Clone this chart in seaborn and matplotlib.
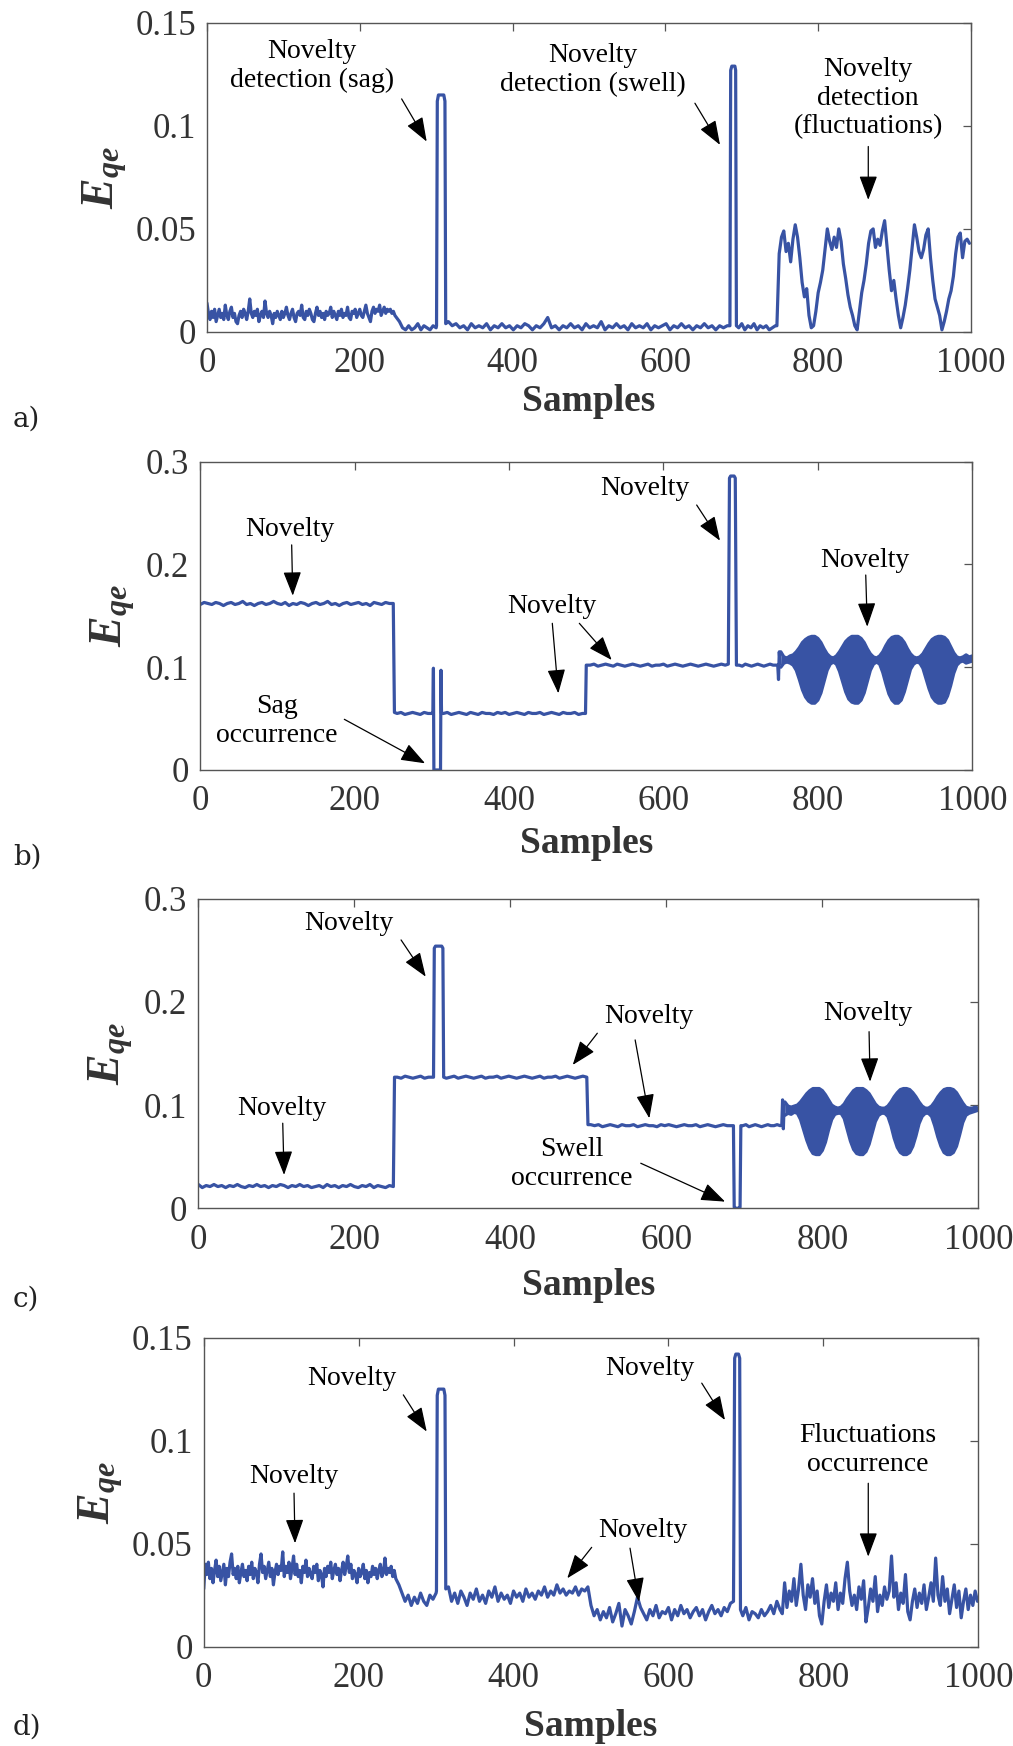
import numpy as np
import matplotlib
matplotlib.use('Agg')
import matplotlib.pyplot as plt
import seaborn as sns

# ---------------- data ----------------
# panel a) : quantization error, noisy signal
a_noise_1 = [0.014, 0.009, 0.006, 0.010, 0.007, 0.011, 0.005, 0.008, 0.011, 0.007,
             0.009, 0.006, 0.013, 0.008, 0.006, 0.010, 0.012, 0.007, 0.009, 0.005,
             0.004, 0.008, 0.010, 0.007, 0.011, 0.009, 0.006, 0.010, 0.016, 0.009,
             0.007, 0.010, 0.008, 0.011, 0.005, 0.008, 0.010, 0.007, 0.015, 0.009,
             0.007, 0.010, 0.008, 0.004, 0.009, 0.007, 0.010, 0.008, 0.006, 0.010,
             0.007, 0.009, 0.012, 0.008, 0.006, 0.009, 0.011, 0.007, 0.005, 0.009,
             0.010, 0.008, 0.013, 0.007, 0.006, 0.010, 0.008, 0.011, 0.009, 0.006,
             0.005, 0.009, 0.012, 0.008, 0.010, 0.007, 0.009, 0.006, 0.010, 0.008,
             0.009, 0.012, 0.007, 0.010, 0.008, 0.006, 0.010, 0.008, 0.011, 0.007,
             0.009, 0.008, 0.012, 0.007, 0.006, 0.010, 0.009, 0.011, 0.007, 0.009,
             0.011, 0.008, 0.007, 0.010, 0.013, 0.009, 0.007, 0.005, 0.010, 0.012,
             0.009, 0.011, 0.010, 0.013, 0.008, 0.010, 0.012, 0.009, 0.011, 0.010,
             0.011, 0.009, 0.010, 0.008, 0.007]
a_noise_2 = [0.005, 0.002, 0.001, 0.003, 0.001, 0.002, 0.004, 0.001, 0.003, 0.002,
             0.001, 0.003, 0.002]
a_sag_x = [300.5, 301.5, 303, 310, 311.5, 312.5]
a_sag_y = [0.003, 0.112, 0.115, 0.115, 0.112, 0.004]
a_noise_3 = [0.005, 0.003, 0.004, 0.002, 0.003, 0.001, 0.004, 0.002, 0.003, 0.002,
             0.004, 0.001, 0.003, 0.002, 0.004, 0.002, 0.003, 0.001, 0.003, 0.002,
             0.004, 0.003, 0.001, 0.003, 0.002, 0.004, 0.007, 0.002, 0.003, 0.001,
             0.003, 0.002, 0.004, 0.002, 0.003, 0.001, 0.004, 0.002, 0.003, 0.002,
             0.005, 0.001, 0.003, 0.002, 0.004, 0.002, 0.003, 0.001, 0.004, 0.002,
             0.003, 0.002, 0.004, 0.001, 0.003, 0.002, 0.003, 0.004, 0.001, 0.003,
             0.002, 0.004, 0.002, 0.003, 0.001, 0.003, 0.002, 0.004, 0.002, 0.003,
             0.001, 0.003, 0.002, 0.003]
a_swell_x = [684.5, 685.5, 687, 691, 692, 693]
a_swell_y = [0.003, 0.127, 0.129, 0.129, 0.127, 0.003]
a_noise_4 = [0.002, 0.004, 0.001, 0.003, 0.002, 0.004, 0.001, 0.003, 0.002, 0.003,
             0.001, 0.002, 0.003]
a_fluct = [0.003, 0.038, 0.046, 0.049, 0.039, 0.043, 0.034, 0.045, 0.052, 0.046,
           0.036, 0.024, 0.017, 0.021, 0.008, 0.002, 0.003, 0.010, 0.019, 0.024,
           0.030, 0.040, 0.050, 0.044, 0.040, 0.046, 0.041, 0.050, 0.044, 0.033,
           0.026, 0.018, 0.012, 0.008, 0.003, 0.001, 0.010, 0.019, 0.025, 0.033,
           0.043, 0.049, 0.050, 0.041, 0.045, 0.042, 0.049, 0.054, 0.042, 0.030,
           0.020, 0.025, 0.016, 0.008, 0.002, 0.007, 0.013, 0.021, 0.030, 0.041,
           0.052, 0.046, 0.039, 0.036, 0.040, 0.047, 0.050, 0.036, 0.025, 0.016,
           0.012, 0.008, 0.001, 0.005, 0.010, 0.016, 0.020, 0.027, 0.038, 0.046,
           0.048, 0.036, 0.044, 0.045, 0.043]

# panel b)
b_lvl1 = [0.161, 0.163, 0.162, 0.161, 0.163, 0.162, 0.160, 0.162, 0.163, 0.161,
          0.162, 0.164, 0.161, 0.162, 0.160, 0.162, 0.163, 0.161, 0.162, 0.164,
          0.162, 0.161, 0.163, 0.160, 0.162, 0.161, 0.163, 0.162, 0.160, 0.162,
          0.163, 0.161, 0.162, 0.164, 0.161, 0.162, 0.160, 0.162, 0.163, 0.161,
          0.162, 0.163, 0.161, 0.162, 0.160, 0.163, 0.162, 0.161, 0.163, 0.162]
b_drop_x = [250, 251.5]
b_drop_y = [0.162, 0.056]
b_lvl2 = [0.055, 0.056, 0.054, 0.055, 0.056, 0.055, 0.054, 0.056, 0.055, 0.055]
b_sag_x = [301.3, 302, 302.6, 311.2, 311.8, 312.5]
b_sag_y = [0.056, 0.099, 0.0, 0.0, 0.097, 0.055]
b_lvl3 = [0.055, 0.056, 0.054, 0.055, 0.056, 0.055, 0.054, 0.056, 0.055, 0.054,
          0.056, 0.055, 0.055, 0.054, 0.056, 0.055, 0.056, 0.054, 0.055, 0.056,
          0.055, 0.054, 0.056, 0.055, 0.055, 0.056, 0.054, 0.055, 0.056, 0.055,
          0.054, 0.056, 0.055, 0.055, 0.056, 0.054, 0.055]
b_rise_x = [499, 500]
b_rise_y = [0.055, 0.102]
b_lvl4 = [0.102, 0.103, 0.101, 0.102, 0.103, 0.102, 0.101, 0.103, 0.102, 0.101,
          0.102, 0.103, 0.102, 0.101, 0.102, 0.103, 0.101, 0.102, 0.102, 0.103,
          0.101, 0.102, 0.103, 0.102, 0.101, 0.102, 0.103, 0.102, 0.101, 0.102,
          0.103, 0.102, 0.101, 0.102, 0.103, 0.102]
b_spike_x = [684, 685.5, 687, 691.5, 693, 694.5]
b_spike_y = [0.103, 0.284, 0.286, 0.286, 0.284, 0.102]
b_lvl5 = [0.102, 0.101, 0.103, 0.102, 0.101, 0.102, 0.103, 0.102, 0.101, 0.102,
          0.103, 0.102, 0.102]
b_trans_x = [748, 749, 750, 751]
b_trans_y = [0.102, 0.088, 0.115, 0.104]
# envelope of the fast oscillation (samples 752..1000, step 4)
b_env_hi = [0.115, 0.110, 0.109, 0.111, 0.112, 0.115, 0.119, 0.124, 0.127, 0.129,
            0.130, 0.130, 0.128, 0.124, 0.118, 0.113, 0.110, 0.109, 0.111, 0.115,
            0.120, 0.125, 0.128, 0.130, 0.130, 0.130, 0.128, 0.124, 0.118, 0.113,
            0.110, 0.109, 0.111, 0.115, 0.121, 0.126, 0.129, 0.130, 0.130, 0.128,
            0.124, 0.118, 0.113, 0.110, 0.109, 0.110, 0.113, 0.118, 0.123, 0.127,
            0.129, 0.130, 0.130, 0.129, 0.126, 0.120, 0.114, 0.110, 0.109, 0.110,
            0.112, 0.110, 0.111]
b_env_lo = [0.100, 0.104, 0.105, 0.104, 0.102, 0.097, 0.088, 0.078, 0.071, 0.067,
            0.065, 0.065, 0.068, 0.075, 0.086, 0.097, 0.103, 0.105, 0.103, 0.096,
            0.086, 0.076, 0.069, 0.066, 0.065, 0.065, 0.068, 0.075, 0.086, 0.097,
            0.103, 0.105, 0.103, 0.095, 0.084, 0.074, 0.068, 0.065, 0.065, 0.068,
            0.076, 0.087, 0.098, 0.103, 0.105, 0.104, 0.099, 0.089, 0.079, 0.071,
            0.067, 0.065, 0.065, 0.066, 0.072, 0.082, 0.094, 0.102, 0.105, 0.106,
            0.104, 0.105, 0.106]

# panel c)
c_lvl1 = [0.023, 0.020, 0.022, 0.021, 0.023, 0.021, 0.022, 0.020, 0.022, 0.021,
          0.023, 0.021, 0.020, 0.022, 0.021, 0.023, 0.021, 0.022, 0.020, 0.022,
          0.021, 0.023, 0.022, 0.020, 0.022, 0.021, 0.023, 0.021, 0.022, 0.020,
          0.021, 0.022, 0.020, 0.023, 0.021, 0.022, 0.020, 0.022, 0.021, 0.023,
          0.021, 0.020, 0.022, 0.021, 0.023, 0.020, 0.022, 0.021, 0.020, 0.022]
c_rise_x = [250, 251.5]
c_rise_y = [0.021, 0.127]
c_lvl2 = [0.127, 0.126, 0.128, 0.127, 0.126, 0.127, 0.128, 0.126, 0.127, 0.127]
c_spike_x = [301.5, 302.5, 304, 312, 313.5, 314.5]
c_spike_y = [0.127, 0.252, 0.254, 0.254, 0.252, 0.127]
c_lvl3 = [0.126, 0.127, 0.128, 0.126, 0.127, 0.128, 0.127, 0.126, 0.127, 0.128,
          0.126, 0.127, 0.127, 0.128, 0.126, 0.127, 0.128, 0.127, 0.126, 0.127,
          0.128, 0.127, 0.126, 0.127, 0.128, 0.126, 0.127, 0.127, 0.128, 0.126,
          0.127, 0.128, 0.127, 0.126, 0.127, 0.128, 0.127]
c_drop_x = [499.5]
c_drop_y = [0.081]
c_lvl4 = [0.081, 0.080, 0.081, 0.079, 0.080, 0.081, 0.080, 0.079, 0.081, 0.080,
          0.080, 0.081, 0.079, 0.080, 0.081, 0.080, 0.080, 0.079, 0.081, 0.080,
          0.081, 0.080, 0.079, 0.080, 0.081, 0.080, 0.080, 0.081, 0.079, 0.080,
          0.081, 0.080, 0.079, 0.080, 0.081, 0.080, 0.080]
c_dip_x = [686, 687, 688.5, 693, 694.5, 695.5]
c_dip_y = [0.080, 0.001, 0.0, 0.0, 0.001, 0.080]
c_lvl5 = [0.080, 0.081, 0.079, 0.080, 0.081, 0.080, 0.079, 0.080, 0.081, 0.080,
          0.080, 0.081, 0.080]
c_trans_x = [748, 749, 750, 751]
c_trans_y = [0.081, 0.105, 0.077, 0.100]
c_env_hi = [0.103, 0.099, 0.098, 0.099, 0.100, 0.103, 0.107, 0.111, 0.114, 0.116,
            0.116, 0.116, 0.114, 0.110, 0.105, 0.100, 0.098, 0.097, 0.098, 0.101,
            0.106, 0.110, 0.114, 0.116, 0.116, 0.116, 0.114, 0.111, 0.106, 0.101,
            0.098, 0.097, 0.097, 0.099, 0.103, 0.108, 0.112, 0.115, 0.116, 0.116,
            0.115, 0.112, 0.108, 0.103, 0.099, 0.097, 0.097, 0.099, 0.103, 0.108,
            0.112, 0.115, 0.116, 0.116, 0.115, 0.112, 0.107, 0.102, 0.098, 0.097,
            0.097, 0.098, 0.097]
c_env_lo = [0.090, 0.092, 0.091, 0.093, 0.092, 0.086, 0.076, 0.066, 0.058, 0.053,
            0.052, 0.052, 0.056, 0.064, 0.076, 0.086, 0.091, 0.092, 0.092, 0.087,
            0.076, 0.065, 0.057, 0.053, 0.052, 0.052, 0.055, 0.062, 0.073, 0.084,
            0.090, 0.092, 0.092, 0.089, 0.080, 0.068, 0.059, 0.054, 0.052, 0.052,
            0.054, 0.060, 0.070, 0.082, 0.089, 0.092, 0.092, 0.089, 0.080, 0.069,
            0.060, 0.054, 0.052, 0.052, 0.054, 0.060, 0.071, 0.083, 0.090, 0.092,
            0.093, 0.094, 0.095]

# panel d)
d_noise_1 = [0.028, 0.040, 0.035, 0.041, 0.033, 0.038, 0.031, 0.037, 0.042, 0.034,
             0.039, 0.032, 0.036, 0.040, 0.030, 0.038, 0.034, 0.041, 0.045, 0.035,
             0.038, 0.033, 0.039, 0.031, 0.036, 0.040, 0.034, 0.037, 0.032, 0.039,
             0.035, 0.041, 0.033, 0.038, 0.036, 0.031, 0.040, 0.045, 0.036, 0.039,
             0.033, 0.037, 0.041, 0.034, 0.038, 0.030, 0.036, 0.040, 0.035, 0.039,
             0.037, 0.046, 0.034, 0.039, 0.036, 0.041, 0.033, 0.038, 0.044, 0.035,
             0.040, 0.034, 0.037, 0.031, 0.039, 0.036, 0.042, 0.034, 0.038, 0.035,
             0.033, 0.039, 0.036, 0.040, 0.032, 0.037, 0.035, 0.029, 0.038, 0.034,
             0.039, 0.036, 0.041, 0.033, 0.037, 0.040, 0.035, 0.038, 0.032, 0.037,
             0.041, 0.035, 0.039, 0.044, 0.036, 0.040, 0.033, 0.037, 0.035, 0.031,
             0.038, 0.034, 0.036, 0.040, 0.033, 0.037, 0.031, 0.036, 0.034, 0.039,
             0.035, 0.038, 0.033, 0.037, 0.040, 0.034, 0.036, 0.043, 0.035, 0.038,
             0.036, 0.039, 0.034, 0.037, 0.033]
d_noise_2 = [0.030, 0.026, 0.022, 0.025, 0.020, 0.024, 0.021, 0.026, 0.022, 0.020,
             0.025, 0.023, 0.026]
d_sag_x = [300.5, 301.5, 303, 310, 311.5, 312.5]
d_sag_y = [0.027, 0.122, 0.125, 0.125, 0.122, 0.028]
d_noise_3 = [0.029, 0.022, 0.026, 0.021, 0.027, 0.024, 0.020, 0.026, 0.023, 0.028,
             0.022, 0.025, 0.021, 0.027, 0.024, 0.029, 0.022, 0.026, 0.023, 0.025,
             0.021, 0.027, 0.024, 0.026, 0.022, 0.028, 0.024, 0.026, 0.023, 0.027,
             0.025, 0.029, 0.024, 0.027, 0.025, 0.030, 0.026, 0.028, 0.025, 0.027,
             0.026, 0.029, 0.025, 0.028, 0.027, 0.029]
d_noise_4 = [0.020, 0.015, 0.018, 0.013, 0.017, 0.014, 0.019, 0.012, 0.016, 0.021,
             0.010, 0.018, 0.015, 0.011, 0.017, 0.024, 0.019, 0.016, 0.013, 0.018,
             0.015, 0.020, 0.014, 0.017, 0.016, 0.019, 0.013, 0.018, 0.015, 0.020,
             0.016, 0.018, 0.014, 0.017, 0.019, 0.015, 0.018, 0.013, 0.017, 0.020,
             0.016, 0.018, 0.015, 0.019, 0.017, 0.021]
d_swell_x = [684, 685.5, 687, 690.5, 692, 693]
d_swell_y = [0.022, 0.140, 0.142, 0.142, 0.140, 0.018]
d_noise_5 = [0.015, 0.019, 0.013, 0.017, 0.016, 0.014, 0.018, 0.015, 0.017, 0.020,
             0.016, 0.022, 0.018]
d_fluct = [0.016, 0.031, 0.019, 0.027, 0.022, 0.033, 0.020, 0.028, 0.040, 0.025,
           0.018, 0.030, 0.024, 0.033, 0.021, 0.027, 0.015, 0.011, 0.022, 0.030,
           0.019, 0.026, 0.022, 0.031, 0.018, 0.026, 0.021, 0.033, 0.041, 0.027,
           0.020, 0.025, 0.018, 0.029, 0.023, 0.032, 0.012, 0.019, 0.028, 0.022,
           0.034, 0.017, 0.025, 0.020, 0.029, 0.023, 0.027, 0.044, 0.024, 0.031,
           0.018, 0.026, 0.021, 0.035, 0.017, 0.013, 0.022, 0.028, 0.019, 0.026,
           0.021, 0.030, 0.018, 0.024, 0.031, 0.022, 0.043, 0.025, 0.020, 0.034,
           0.022, 0.028, 0.016, 0.023, 0.030, 0.019, 0.027, 0.014, 0.022, 0.028,
           0.018, 0.025, 0.020, 0.027, 0.022]


def seg(start, step, vals):
    # sample index of each value in an evenly spaced run
    return start + step * np.arange(len(vals)), np.asarray(vals, dtype=float)


def join(*parts):
    xs = np.concatenate([np.asarray(p[0], dtype=float) for p in parts])
    ys = np.concatenate([np.asarray(p[1], dtype=float) for p in parts])
    return xs, ys


a_x, a_y = join(seg(0, 2, a_noise_1), seg(252, 4, a_noise_2), (a_sag_x, a_sag_y),
                seg(316, 5, a_noise_3), (a_swell_x, a_swell_y),
                seg(696, 4, a_noise_4), seg(746, 3, a_fluct))
b_x, b_y = join(seg(0, 5, b_lvl1), (b_drop_x, b_drop_y), seg(255, 5, b_lvl2),
                (b_sag_x, b_sag_y), seg(315, 5, b_lvl3), (b_rise_x, b_rise_y),
                seg(505, 5, b_lvl4), (b_spike_x, b_spike_y), seg(698, 4, b_lvl5),
                (b_trans_x, b_trans_y))
c_x, c_y = join(seg(0, 5, c_lvl1), (c_rise_x, c_rise_y), seg(255, 5, c_lvl2),
                (c_spike_x, c_spike_y), seg(318, 5, c_lvl3), (c_drop_x, c_drop_y),
                seg(503, 5, c_lvl4), (c_dip_x, c_dip_y), seg(698, 4, c_lvl5),
                (c_trans_x, c_trans_y))
d_x, d_y = join(seg(0, 2, d_noise_1), seg(252, 4, d_noise_2), (d_sag_x, d_sag_y),
                seg(316, 4, d_noise_3), seg(500, 4, d_noise_4),
                (d_swell_x, d_swell_y), seg(696, 4, d_noise_5), seg(747, 3, d_fluct))
env_x = seg(752, 4, b_env_hi)[0]

# annotations: (text, text x, text y, [(tail, head), ...])
a_notes = [("Novelty\ndetection (sag)", 137, 0.129, [((254.8, 0.1131), (287.6, 0.0924))]),
           ("Novelty\ndetection (swell)", 505.7, 0.1272, [((638.7, 0.111), (671.5, 0.0908))]),
           ("Novelty\ndetection\n(fluctuations)", 865.6, 0.1134, [((865.6, 0.090), (865.6, 0.0641))])]
b_notes = [("Novelty", 116.2, 0.2335, [((118.4, 0.219), (119.8, 0.1696))]),
           ("Sag\noccurrence", 99, 0.0479, [((186.6, 0.0493), (291.2, 0.0065))]),
           ("Novelty", 456, 0.1589, [((456, 0.1427), (463.8, 0.0746)),
                                     ((491, 0.1427), (532.9, 0.107))]),
           ("Novelty", 576, 0.274, [((643, 0.2578), (673.2, 0.2231))]),
           ("Novelty", 861, 0.2043, [((862, 0.1897), (864, 0.1394))])]
c_notes = [("Novelty", 106.9, 0.0969, [((108.2, 0.0824), (109.9, 0.0323))]),
           ("Novelty", 193.2, 0.2762, [((259.9, 0.26), (291.5, 0.2244))]),
           ("Novelty", 577, 0.1857, [((511.5, 0.1696), (480, 0.1389)),
                                     ((560, 0.1631), (578.2, 0.0872))]),
           ("Swell\noccurrence", 478.7, 0.0429, [((567.2, 0.0436), (675.3, 0.0064))]),
           ("Novelty", 858.2, 0.1883, [((859.9, 0.1711), (861.2, 0.1227))])]
d_notes = [("Novelty", 191, 0.1303, [((257.7, 0.1222), (287.9, 0.1044))]),
           ("Novelty", 115.7, 0.0825, [((116.6, 0.0745), (117.9, 0.0502))]),
           ("Novelty", 576.2, 0.1351, [((643, 0.1279), (673, 0.110))]),
           ("Novelty", 567.5, 0.0566, [((500.9, 0.0482), (469.4, 0.0332)),
                                       ((550.4, 0.0478), (562, 0.0218))]),
           ("Fluctuations\noccurrence", 857.2, 0.0955, [((858, 0.0793), (858, 0.0437))])]

x_ticks = [0, 200, 400, 600, 800, 1000]
small_ticks = [0, 0.05, 0.1, 0.15]
small_labels = ['0', '0.05', '0.1', '0.15']
big_ticks = [0, 0.1, 0.2, 0.3]
big_labels = ['0', '0.1', '0.2', '0.3']

# ---------------- style ----------------
sns.set_theme(style='white')
plt.rcParams['font.family'] = ['Liberation Serif', 'DejaVu Serif']
plt.rcParams['mathtext.fontset'] = 'custom'
plt.rcParams['mathtext.rm'] = 'Liberation Serif'
plt.rcParams['mathtext.it'] = 'Liberation Serif:italic'
plt.rcParams['mathtext.bf'] = 'Liberation Serif:bold'
plt.rcParams['mathtext.bfit'] = 'Liberation Serif:italic:bold'

BLUE = '#3853a4'
GREY = '#555555'
TXT = '#333333'
LW = 2.3

fig = plt.figure(figsize=(10.13, 17.46), dpi=100)

panels = [
    dict(rect=[0.2043, 0.8099, 0.7542, 0.1770], x=a_x, y=a_y, env=None,
         ylim=0.15, yt=small_ticks, yl=small_labels, notes=a_notes,
         ylab_x=-0.1335, xlab_y=-0.226, tag='a)', tag_y=419),
    dict(rect=[0.1977, 0.5590, 0.7621, 0.1766], x=b_x, y=b_y, env=(b_env_lo, b_env_hi),
         ylim=0.3, yt=big_ticks, yl=big_labels, notes=b_notes,
         ylab_x=-0.113, xlab_y=-0.240, tag='b)', tag_y=857),
    dict(rect=[0.1958, 0.3080, 0.7700, 0.1773], x=c_x, y=c_y, env=(c_env_lo, c_env_hi),
         ylim=0.3, yt=big_ticks, yl=big_labels, notes=c_notes,
         ylab_x=-0.112, xlab_y=-0.248, tag='c)', tag_y=1299),
    dict(rect=[0.2011, 0.0569, 0.7646, 0.1770], x=d_x, y=d_y, env=None,
         ylim=0.15, yt=small_ticks, yl=small_labels, notes=d_notes,
         ylab_x=-0.1326, xlab_y=-0.257, tag='d)', tag_y=1727),
]

for p in panels:
    ax = fig.add_axes(p['rect'])
    sns.lineplot(x=p['x'], y=p['y'], ax=ax, color=BLUE, linewidth=LW,
                 estimator=None, sort=False)
    if p['env'] is not None:
        lo, hi = p['env']
        ax.fill_between(env_x, lo, hi, color=BLUE, linewidth=0)
        sns.lineplot(x=env_x, y=hi, ax=ax, color=BLUE, linewidth=LW, estimator=None, sort=False)
        sns.lineplot(x=env_x, y=lo, ax=ax, color=BLUE, linewidth=LW, estimator=None, sort=False)

    ax.set_xlim(0, 1000)
    ax.set_ylim(0, p['ylim'])
    ax.set_xticks(x_ticks)
    ax.set_xticklabels([str(t) for t in x_ticks])
    ax.set_yticks(p['yt'])
    ax.set_yticklabels(p['yl'])
    ax.tick_params(direction='in', length=6, width=0.9, color=GREY,
                   top=True, right=True, labelsize=25, labelcolor=TXT)
    ax.tick_params(axis='x', pad=11)
    ax.tick_params(axis='y', pad=8)
    for s in ax.spines.values():
        s.set_color(GREY)
        s.set_linewidth(1.0)

    ax.set_xlabel('Samples', fontsize=27, fontweight='bold', color=TXT, va='center')
    ax.xaxis.set_label_coords(0.5, p['xlab_y'])
    ax.set_ylabel(r'$\mathbfit{E}_{\mathbfit{qe}}$', fontsize=33, color=TXT,
                  va='center', rotation=90)
    ax.yaxis.set_label_coords(p['ylab_x'], 0.5)

    for text, tx, ty, arrows in p['notes']:
        ax.text(tx, ty, text, ha='center', va='center', fontsize=20, color='black')
        for tail, head in arrows:
            ax.annotate('', xy=head, xytext=tail,
                        arrowprops=dict(arrowstyle='-|>,head_length=0.75,head_width=0.28',
                                        color='black', lw=0.9, shrinkA=0, shrinkB=0,
                                        mutation_scale=20))

    fig.text(13 / 1013, 1 - p['tag_y'] / 1746, p['tag'], ha='left', va='center',
             fontsize=20, color='#222222', family='DejaVu Serif')

fig.savefig('out.png', dpi=100)
